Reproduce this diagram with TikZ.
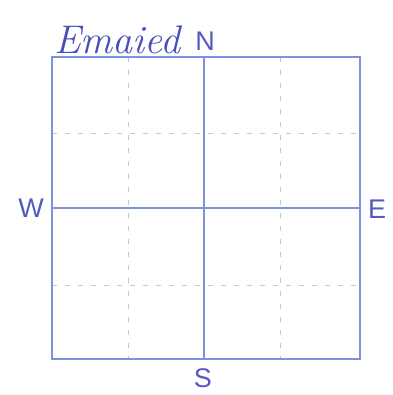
\documentclass[tikz,border=0pt]{standalone}
\usepackage{fontspec}
\setmainfont{Liberation Sans}
\newfontfamily\handfont{Latin Modern Roman}
\definecolor{gridblue}{RGB}{125,145,220}
\definecolor{dashblue}{RGB}{190,198,228}
\definecolor{labblue}{RGB}{85,90,190}
\definecolor{inkblue}{RGB}{70,80,185}
\begin{document}
\begin{tikzpicture}[x=1pt,y=-1pt,
  gridline/.style={draw=gridblue,line width=1.2pt},
  dashline/.style={draw=dashblue,line width=0.9pt,dash pattern=on 5pt off 8pt},
  dirlabel/.style={text=labblue,font=\fontsize{27}{27}\selectfont,inner sep=0pt}]
\useasboundingbox (0,0) rectangle (392,395);
% coordinates
\coordinate (tl) at (52,57);
\coordinate (br) at (360,359);
\coordinate (ntop) at (204,57);
\coordinate (sbot) at (204,359);
\coordinate (wmid) at (52,208);
\coordinate (emid) at (360,208);
\coordinate (d1t) at (128,57); \coordinate (d1b) at (128,359);
\coordinate (d2t) at (280,57); \coordinate (d2b) at (280,359);
\coordinate (d3l) at (52,133); \coordinate (d3r) at (360,133);
\coordinate (d4l) at (52,285); \coordinate (d4r) at (360,285);
% dashed inner lines
\draw[dashline] (d1t) -- (d1b);
\draw[dashline] (d2t) -- (d2b);
\draw[dashline] (d3l) -- (d3r);
\draw[dashline] (d4l) -- (d4r);
% solid lines
\draw[gridline] (tl) rectangle (br);
\draw[gridline] (ntop) -- (sbot);
\draw[gridline] (wmid) -- (emid);
% labels
\node[dirlabel] (N) at (205,41) {N};
\node[dirlabel] (W) at (31,208) {W};
\node[dirlabel] (E) at (377,209) {E};
\node[dirlabel] (S) at (203,378) {S};
\node[text=inkblue,font=\handfont\itshape\fontsize{40}{40}\selectfont,anchor=base west,inner sep=0pt] (name) at (54,54) {Emaied};
\end{tikzpicture}
\end{document}
